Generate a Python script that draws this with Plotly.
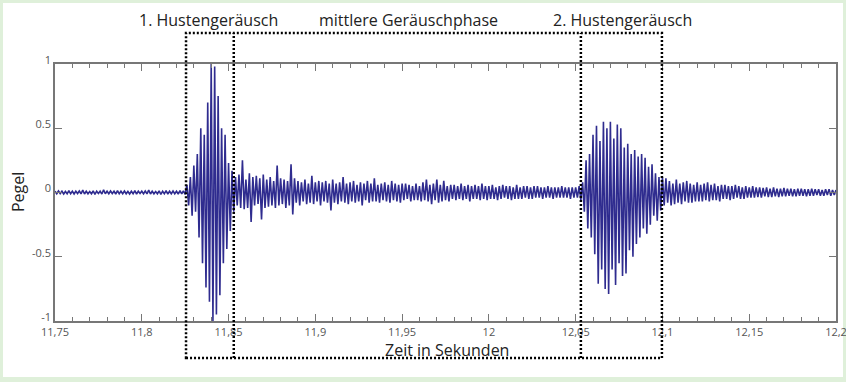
import numpy as np
import plotly.graph_objects as go

t_start = 11.75
dt = 0.001

pre = [0.01,-0.01,0.012,-0.008,0.01,-0.012,0.008,-0.01,0.015,-0.01,
       0.01,-0.012,0.01,-0.008,0.012,-0.01,0.018,-0.012,0.01,-0.01,
       0.008,-0.01,0.012,-0.015,0.01,-0.008,0.01,-0.012,0.02,-0.01,
       0.01,-0.01,0.012,-0.008,0.01,-0.012,0.015,-0.01,0.01,-0.01,
       0.012,-0.01,0.008,-0.012,0.01,-0.01,0.015,-0.012,0.01,-0.008,
       0.01,-0.01,0.012,-0.01,0.018,-0.012,0.01,-0.01,0.008,-0.01,
       0.012,-0.015,0.01,-0.01,0.015,-0.012,0.01,-0.01,0.012,-0.01,
       0.01,-0.012,0.015,-0.01,0.012,-0.015]

cough1 = [0.06,-0.1,0.12,-0.18,0.21,-0.15,0.3,-0.35,0.5,-0.55,
          0.45,-0.74,0.7,-0.85,1.0,-1.0,0.98,-0.95,0.75,-0.8,
          0.5,-0.55,0.45,-0.44,0.23,-0.3,0.17]

mid_a = [-0.15,0.12,-0.1,0.14,-0.12,0.25,-0.13,0.1,-0.12,0.15,
         -0.23,0.12,-0.1,0.13,-0.09,0.11,-0.21,0.14,-0.12,0.1,
         -0.11,0.12,-0.1,0.09,-0.12,0.21,-0.1,0.11]

mid_b = [-0.09,0.1,-0.12,0.09,-0.1,0.22,-0.17,0.11,-0.08,0.09,
         -0.1,0.08,-0.07,0.1,-0.09,0.07,-0.08,0.13,-0.09,0.08,
         -0.07,0.09,-0.1,0.08,-0.07,0.09,-0.08,0.07,-0.14,0.1,
         -0.08,0.07,-0.09,0.08,-0.07,0.12,-0.08,0.07,-0.09,0.08,
         -0.07,0.09,-0.08,0.06,-0.07,0.08,-0.1,0.07,-0.06,0.09,
         -0.08,0.07,-0.07,0.11,-0.07,0.06,-0.08,0.07,-0.06,0.08,
         -0.07,0.06,-0.08,0.09,-0.06,0.07,-0.07,0.06,-0.08,0.07]

mid_c = [-0.06,0.07,-0.05,0.06,-0.07,0.05,-0.06,0.07,-0.06,0.05,
         -0.07,0.08,-0.06,0.1,-0.07,0.06,-0.09,0.07,-0.06,0.1,
         -0.08,0.06,-0.07,0.09,-0.06,0.05,-0.07,0.06,-0.05,0.06,
         -0.06,0.05,-0.05,0.07,-0.06,0.05,-0.05,0.06,-0.07,0.05,
         -0.05,0.06,-0.05,0.05,-0.06,0.07,-0.05,0.05,-0.06,0.05,
         -0.05,0.06,-0.05,0.04,-0.06,0.05,-0.05,0.06,-0.04,0.05,
         -0.05,0.05,-0.06,0.04,-0.05,0.06,-0.05,0.04,-0.05,0.05,
         -0.04,0.05,-0.05,0.04,-0.05,0.05,-0.04,0.05,-0.04,0.04,
         -0.05,0.04,-0.04,0.05,-0.04,0.04,-0.05,0.04,-0.04,0.04,
         -0.04,0.05,-0.04,0.04,-0.04,0.04,-0.05,0.04,-0.04,0.04,
         -0.04,0.05,-0.06]

cough2 = [0.08,-0.15,0.25,-0.28,0.3,-0.35,0.45,-0.48,0.52,-0.71,
          0.4,-0.6,0.55,-0.75,0.5,-0.79,0.55,-0.6,0.42,-0.72,
          0.53,-0.55,0.5,-0.65,0.35,-0.63,0.38,-0.45,0.3,-0.5,
          0.33,-0.4,0.28,-0.35,0.3,-0.28,0.27,-0.32,0.2,-0.25,
          0.22,-0.18,0.15,-0.22,0.12,-0.14,0.12]

tail = [-0.1,0.11,-0.08,0.09,-0.1,0.07,-0.09,0.1,-0.08,0.07,
        -0.09,0.08,-0.07,0.09,-0.08,0.07,-0.08,0.06,-0.07,0.08,
        -0.07,0.06,-0.07,0.07,-0.06,0.08,-0.07,0.06,-0.06,0.07,
        -0.06,0.05,-0.07,0.06,-0.05,0.06,-0.05,0.05,-0.06,0.05,
        -0.05,0.06,-0.04,0.05,-0.05,0.04,-0.05,0.05,-0.04,0.04,
        -0.04,0.05,-0.04,0.04,-0.035,0.04,-0.04,0.035,-0.03,0.04,
        -0.035,0.03,-0.035,0.04,-0.03,0.03,-0.035,0.03,-0.03,0.035,
        -0.03,0.03,-0.025,0.03,-0.03,0.025,-0.03,0.03,-0.025,0.03,
        -0.025,0.025,-0.03,0.025,-0.025,0.03,-0.025,0.025,-0.02,0.025,
        -0.025,0.02,-0.025,0.025,-0.02,0.025,-0.025,0.02,-0.02,0.02]

signal = np.array(pre + cough1 + mid_a + mid_b + mid_c + cough2 + tail)
time = t_start + np.arange(len(signal)) * dt

x_tickvals = [11.75, 11.8, 11.85, 11.9, 11.95, 12.0, 12.05, 12.1, 12.15, 12.2]
x_ticktext = ["11,75", "11,8", "11,85", "11,9", "11,95", "12", "12,05", "12,1", "12,15", "12,2"]
y_tickvals = [-1, -0.5, 0, 0.5, 1]
y_ticktext = ["-1", "-0.5", "0", "0.5", "1"]

# phase boundaries (seconds)
phase_edges = [11.8255, 11.853, 12.053, 12.0997]
phase_labels = ["1. Hustengeräusch", "mittlere Geräuschphase", "2. Hustengeräusch"]
phase_label_x = [11.8382, 11.9534, 12.0767]

fig = go.Figure()
fig.add_trace(go.Scatter(x=time, y=signal, mode="lines",
                         line=dict(color="#2f2c8f", width=1.6), hoverinfo="skip"))

W, H = 846, 382
ml, mr, mt, mb = 55, 10, 64, 61
pw, ph = W - ml - mr, H - mt - mb

def px_x(p):
    return (p - ml) / pw

def px_y(p):
    return (H - mb - p) / ph

shapes = []
# white inner panel on the green page
shapes.append(dict(type="rect", xref="paper", yref="paper", layer="below",
                   x0=px_x(3), x1=px_x(843), y0=px_y(377), y1=px_y(3),
                   fillcolor="white", line=dict(width=0)))
dot = dict(color="black", width=2.5, dash="2px,2px")
y_top, y_bot = px_y(33), px_y(358)
shapes.append(dict(type="rect", xref="x", yref="paper",
                   x0=phase_edges[0], x1=phase_edges[3], y0=y_bot, y1=y_top,
                   line=dot))
for xe in phase_edges[1:3]:
    shapes.append(dict(type="line", xref="x", yref="paper",
                       x0=xe, x1=xe, y0=y_bot, y1=y_top, line=dot))

annotations = []
for lbl, lx in zip(phase_labels, phase_label_x):
    annotations.append(dict(text=lbl, x=lx, xref="x", y=px_y(20), yref="paper",
                            showarrow=False, xanchor="center", yanchor="middle",
                            font=dict(size=16, color="#222")))
annotations.append(dict(text="Zeit in Sekunden", x=px_x(447), xref="paper",
                        y=px_y(350), yref="paper", showarrow=False,
                        xanchor="center", yanchor="middle",
                        font=dict(size=16, color="#222")))
annotations.append(dict(text="Pegel", x=px_x(18), xref="paper",
                        y=px_y(192), yref="paper", showarrow=False, textangle=-90,
                        xanchor="center", yanchor="middle",
                        font=dict(size=16, color="#222")))

fig.update_layout(
    width=W, height=H,
    margin=dict(l=ml, r=mr, t=mt, b=mb, autoexpand=False),
    paper_bgcolor="#dff0da",
    plot_bgcolor="rgba(0,0,0,0)",
    showlegend=False,
    font=dict(family="Open Sans, Noto Sans, sans-serif", color="#444"),
    shapes=shapes,
    annotations=annotations,
    xaxis=dict(range=[11.75, 12.2], tickvals=x_tickvals, ticktext=x_ticktext,
               automargin=False, ticklabeloverflow="allow",
               ticks="inside", ticklen=7, tickcolor="#777", tickwidth=1,
               showline=True, linecolor="#777", linewidth=1.5, mirror="ticks",
               showgrid=False, zeroline=False, tickfont=dict(size=11, color="#555"),
               minor=dict(ticks="inside", dtick=0.01, ticklen=4, tickcolor="#777",
                          showgrid=False)),
    yaxis=dict(range=[-1, 1], tickvals=y_tickvals, ticktext=y_ticktext,
               automargin=False, ticklabeloverflow="allow", ticklabelshift=-4,
               ticks="inside", ticklen=7, tickcolor="#777", tickwidth=1,
               showline=True, linecolor="#777", linewidth=1.5, mirror="ticks",
               showgrid=False, zeroline=False, tickfont=dict(size=11, color="#555")),
)

fig.write_html("out.html", config={"displayModeBar": False},
               post_script="document.body.style.margin='0';")
